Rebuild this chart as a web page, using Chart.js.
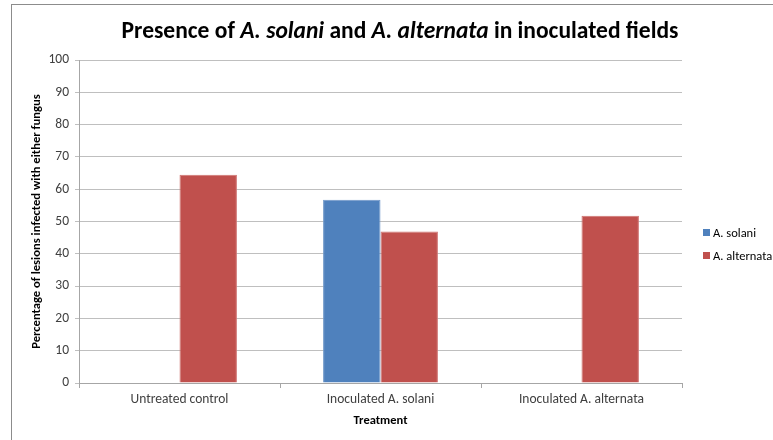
<!DOCTYPE html>
<html>
<head>
<meta charset="utf-8">
<script src="https://cdn.jsdelivr.net/npm/chart.js@4"></script>
<style>
    html, body { margin: 0; padding: 0; background: #fff; }
    #wrap { position: relative; width: 773px; height: 440px; overflow: hidden; font-family: Carlito, Lato, sans-serif; }
    #frame { position: absolute; left: 11px; top: 4px; width: 900px; height: 600px; border-left: 1px solid #8c8c8c; border-top: 1px solid #8c8c8c; }
    #title { position: absolute; left: 0; width: 800px; top: 16px; text-align: center; font-size: 23.5px; font-weight: bold; color: #000; }
    #legend { position: absolute; left: 703px; top: 226px; font-size: 12.5px; color: #000; }
    .leg-item { height: 23px; line-height: 14px; white-space: nowrap; }
    .leg-box { display: inline-block; width: 7px; height: 7px; margin-right: 3px; vertical-align: 1px; }
    canvas { position: absolute; left: 0; top: 0; }
</style>
</head>
<body>
<div id="wrap">
    <div id="frame"></div>
    <canvas id="chart" width="773" height="440"></canvas>
    <div id="title">Presence of <i>A. solani</i> and <i>A. alternata</i> in inoculated fields</div>
    <div id="legend"></div>
</div>
<script>
// Data
const categories = ['Untreated control', 'Inoculated A. solani', 'Inoculated A. alternata'];
const seriesNames = ['A. solani', 'A. alternata'];
const solaniValues = [0, 56.7, 0];
const alternataValues = [64.5, 46.9, 51.8];
const yTicks = [0, 10, 20, 30, 40, 50, 60, 70, 80, 90, 100];

const colors = ['#4f81bd', '#c0504d'];
const fontFamily = 'Carlito, Lato, sans-serif';

function buildLegend() {
    const container = document.getElementById('legend');
    let html = '';
    seriesNames.forEach((name, idx) => {
        html += `<div class="leg-item"><span class="leg-box" style="background:${colors[idx]}"></span>${name}</div>`;
    });
    container.innerHTML = html;
}

function initChart() {
    const ctx = document.getElementById('chart').getContext('2d');
    new Chart(ctx, {
        type: 'bar',
        data: {
            labels: categories,
            datasets: [
                {
                    label: seriesNames[0],
                    data: solaniValues,
                    backgroundColor: colors[0],
                    borderColor: '#6f97c9',
                    borderWidth: 1
                },
                {
                    label: seriesNames[1],
                    data: alternataValues,
                    backgroundColor: colors[1],
                    borderColor: '#cf7472',
                    borderWidth: 1
                }
            ]
        },
        options: {
            responsive: false,
            animation: false,
            layout: { padding: { left: 0, top: 60, right: 91, bottom: 0 } },
            datasets: {
                bar: { barPercentage: 1, categoryPercentage: 0.5714 }
            },
            plugins: {
                legend: { display: false },
                tooltip: { enabled: false }
            },
            scales: {
                x: {
                    grid: {
                        offset: true,
                        drawOnChartArea: false,
                        drawTicks: true,
                        tickLength: 5,
                        color: '#a6a6a6'
                    },
                    border: { color: '#a6a6a6' },
                    ticks: {
                        color: '#404040',
                        font: { family: fontFamily, size: 13.5 },
                        padding: 4
                    },
                    title: {
                        display: true,
                        text: 'Treatment',
                        color: '#000',
                        font: { family: fontFamily, size: 12.5, weight: 'bold' },
                        padding: { top: 3, bottom: 12 }
                    },
                    afterFit: (scale) => { scale.height = 57; }
                },
                y: {
                    min: 0,
                    max: 100,
                    afterBuildTicks: (scale) => {
                        scale.ticks = yTicks.map(v => ({ value: v }));
                    },
                    grid: {
                        color: '#bfbfbf',
                        tickLength: 4
                    },
                    border: { color: '#a6a6a6' },
                    ticks: {
                        color: '#404040',
                        font: { family: fontFamily, size: 13.5 },
                        padding: 6
                    },
                    title: {
                        display: true,
                        text: 'Percentage of lesions infected with either fungus',
                        color: '#000',
                        font: { family: fontFamily, size: 12.6, weight: 'bold' },
                        padding: { top: 29, bottom: 0 }
                    },
                    afterFit: (scale) => { scale.width = 79; }
                }
            }
        }
    });
}

buildLegend();
initChart();
</script>
</body>
</html>
